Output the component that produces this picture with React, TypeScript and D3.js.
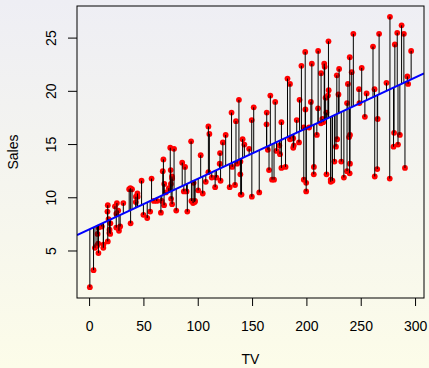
import React, { useEffect, useRef } from "react";
import * as d3 from "d3";

// Advertising data: TV budget and Sales
const tv = [
  230.1, 44.5, 17.2, 151.5, 180.8, 8.7, 57.5, 120.2, 8.6, 199.8, 66.1, 214.7, 23.8, 97.5, 204.1, 195.4, 67.8, 281.4, 69.2, 147.3,
  218.4, 237.4, 13.2, 228.3, 62.3, 262.9, 142.9, 240.1, 248.8, 70.6, 292.9, 112.9, 97.2, 265.6, 95.7, 290.7, 266.9, 74.7, 43.1, 228,
  202.5, 177, 293.6, 206.9, 25.1, 175.1, 89.7, 239.9, 227.2, 66.9, 199.8, 100.4, 216.4, 182.6, 262.7, 198.9, 7.3, 136.2, 210.8, 210.7,
  53.5, 261.3, 239.3, 102.7, 131.1, 69, 31.5, 139.3, 237.4, 216.8, 199.1, 109.8, 26.8, 129.4, 213.4, 16.9, 27.5, 120.5, 5.4, 116,
  76.4, 239.8, 75.3, 68.4, 213.5, 193.2, 76.3, 110.7, 88.3, 109.8, 134.3, 28.6, 217.7, 250.9, 107.4, 163.3, 197.6, 184.9, 289.7, 135.2,
  222.4, 296.4, 280.2, 187.9, 238.2, 137.9, 25, 90.4, 13.1, 255.4, 225.8, 241.7, 175.7, 209.6, 78.2, 75.1, 139.2, 76.4, 125.7, 19.4,
  141.3, 18.8, 224, 123.1, 229.5, 87.2, 7.8, 80.2, 220.3, 59.6, 0.7, 265.2, 8.4, 219.8, 36.9, 48.3, 25.6, 273.7, 43, 184.9,
  73.4, 193.7, 220.5, 104.6, 96.2, 140.3, 240.1, 243.2, 38, 44.7, 280.7, 121, 197.6, 171.3, 187.8, 4.1, 93.9, 149.8, 11.7, 131.7,
  172.5, 85.7, 188.4, 163.5, 117.2, 234.5, 17.9, 206.8, 215.4, 284.3, 50, 164.5, 19.6, 168.4, 222.4, 276.9, 248.4, 170.2, 276.7, 165.6,
  156.6, 218.5, 56.2, 287.6, 253.8, 205, 139.5, 191.1, 286, 18.7, 39.5, 75.5, 17.2, 166.8, 149.7, 38.2, 94.2, 177, 283.6, 232.1,
];
const sales = [
  22.1, 10.4, 9.3, 18.5, 12.9, 7.2, 11.8, 13.2, 4.8, 10.6, 8.6, 17.4, 9.2, 9.7, 19, 22.4, 12.5, 24.4, 11.3, 14.6,
  18, 12.5, 5.6, 15.5, 9.7, 12, 15, 15.9, 18.9, 10.5, 21.4, 11.9, 9.6, 17.4, 9.5, 12.8, 25.4, 14.7, 10.1, 21.5,
  16.6, 17.1, 20.7, 12.9, 8.5, 14.9, 10.6, 23.2, 14.8, 9.7, 11.4, 10.7, 22.6, 21.2, 20.2, 23.7, 5.5, 13.2, 23.8, 18.4,
  8.1, 24.2, 15.7, 14, 18, 9.3, 9.5, 13.4, 18.9, 22.3, 18.3, 12.4, 8.8, 11, 17, 8.7, 6.9, 14.2, 5.3, 11,
  11.8, 12.3, 11.3, 13.6, 21.7, 15.2, 12, 16, 12.9, 16.7, 11.2, 7.3, 19.4, 22.2, 11.5, 16.9, 11.7, 15.5, 25.4, 17.2,
  11.7, 23.8, 14.8, 14.7, 20.7, 19.2, 7.2, 8.7, 5.3, 19.8, 13.4, 21.8, 14.1, 15.9, 14.6, 12.6, 12.2, 9.4, 15.9, 6.6,
  15.5, 7, 11.6, 15.2, 19.7, 10.6, 6.6, 8.8, 24.7, 9.7, 1.6, 12.7, 5.7, 19.6, 10.8, 11.6, 9.5, 20.8, 9.6, 20.7,
  10.9, 19.2, 20.1, 10.4, 11.4, 10.3, 13.2, 25.4, 10.9, 10.1, 16.1, 11.6, 16.6, 19, 15.6, 3.2, 15.3, 10.1, 7.3, 12.9,
  14.4, 13.3, 14.9, 18, 11.9, 11.9, 8, 12.2, 17.1, 15, 8.4, 14.5, 7.6, 11.7, 11.5, 27, 20.2, 11.7, 11.8, 12.6,
  10.5, 12.2, 8.7, 26.2, 17.6, 22.6, 10.3, 17.3, 15.9, 6.7, 10.8, 9.9, 5.9, 19.6, 17.3, 7.6, 9.7, 12.8, 25.5, 13.4,
];
const xTicks = [0, 50, 100, 150, 200, 250, 300];
const yTicks = [5, 10, 15, 20, 25];

export default function App() {
  const svgRef = useRef(null);

  useEffect(() => {
    const W = 429;
    const H = 368;
    const margin = { top: 6, right: 5, bottom: 70, left: 77 };
    const font = "'Liberation Sans', Arial, Helvetica, sans-serif";
    const fs = 14;

    const svg = d3.select(svgRef.current).attr("width", W).attr("height", H);

    // background gradient like the R device
    const defs = svg.append("defs");
    const grad = defs.append("linearGradient")
      .attr("id", "bg").attr("x1", 0).attr("y1", 0).attr("x2", 0).attr("y2", 1);
    grad.append("stop").attr("offset", "0%").attr("stop-color", "#eeeef4");
    grad.append("stop").attr("offset", "100%").attr("stop-color", "#fcfce9");
    svg.append("rect").attr("width", W).attr("height", H).attr("fill", "url(#bg)");

    // R-style ranges: data extent padded 4%
    const xe = d3.extent(tv);
    const ye = d3.extent(sales);
    const xp = (xe[1] - xe[0]) * 0.04;
    const yp = (ye[1] - ye[0]) * 0.04;
    const x = d3.scaleLinear().domain([xe[0] - xp, xe[1] + xp]).range([margin.left, W - margin.right]);
    const y = d3.scaleLinear().domain([ye[0] - yp, ye[1] + yp]).range([H - margin.bottom, margin.top]);

    // least squares fit
    const mx = d3.mean(tv);
    const my = d3.mean(sales);
    let sxy = 0;
    let sxx = 0;
    tv.forEach((v, i) => {
      sxy += (v - mx) * (sales[i] - my);
      sxx += (v - mx) * (v - mx);
    });
    const b = sxy / sxx;
    const a = my - b * mx;

    defs.append("clipPath").attr("id", "plotclip")
      .append("rect")
      .attr("x", margin.left).attr("y", margin.top)
      .attr("width", W - margin.left - margin.right)
      .attr("height", H - margin.top - margin.bottom);

    const data = tv.map((v, i) => ({ tv: v, sales: sales[i] }));

    // points
    svg.append("g").selectAll("circle").data(data).join("circle")
      .attr("cx", d => x(d.tv))
      .attr("cy", d => y(d.sales))
      .attr("r", 2.9)
      .attr("fill", "#ff0000");

    // residual segments
    svg.append("g").selectAll("line").data(data).join("line")
      .attr("x1", d => x(d.tv)).attr("x2", d => x(d.tv))
      .attr("y1", d => y(d.sales)).attr("y2", d => y(a + b * d.tv))
      .attr("stroke", "#000").attr("stroke-width", 1);

    // regression line across the plot region
    const dom = x.domain();
    svg.append("line")
      .attr("clip-path", "url(#plotclip)")
      .attr("x1", x(dom[0])).attr("x2", x(dom[1]))
      .attr("y1", y(a + b * dom[0])).attr("y2", y(a + b * dom[1]))
      .attr("stroke", "#0000ff").attr("stroke-width", 2);

    // box
    svg.append("rect")
      .attr("x", margin.left).attr("y", margin.top)
      .attr("width", W - margin.left - margin.right)
      .attr("height", H - margin.top - margin.bottom)
      .attr("fill", "none").attr("stroke", "#000").attr("stroke-width", 1);

    // x axis
    const gx = svg.append("g")
      .attr("transform", `translate(0,${H - margin.bottom})`)
      .call(d3.axisBottom(x).tickValues(xTicks).tickSize(8).tickPadding(15).tickSizeOuter(0));
    gx.select(".domain").remove();
    gx.selectAll("text").attr("font-family", font).attr("font-size", fs).attr("fill", "#000");

    // y axis, labels rotated like R's default las=0
    const gy = svg.append("g")
      .attr("transform", `translate(${margin.left},0)`)
      .call(d3.axisLeft(y).tickValues(yTicks).tickSize(9).tickPadding(0).tickSizeOuter(0));
    gy.select(".domain").remove();
    gy.selectAll(".tick").attr("transform", "translate(0,0)");
    gy.selectAll(".tick line").attr("y1", d => y(d)).attr("y2", d => y(d));
    gy.selectAll("text")
      .attr("font-family", font).attr("font-size", fs).attr("fill", "#000")
      .attr("text-anchor", "middle")
      .attr("x", 0).attr("dy", null)
      .attr("transform", d => `translate(-21.5,${y(d)}) rotate(-90)`)
      .attr("y", 0);

    // axis titles
    svg.append("text")
      .attr("x", (margin.left + W - margin.right) / 2)
      .attr("y", 364)
      .attr("text-anchor", "middle")
      .attr("font-family", font).attr("font-size", fs)
      .text("TV");
    svg.append("text")
      .attr("transform", `translate(18,${(margin.top + H - margin.bottom) / 2}) rotate(-90)`)
      .attr("text-anchor", "middle")
      .attr("font-family", font).attr("font-size", fs)
      .text("Sales");

    return () => {
      d3.select(svgRef.current).selectAll("*").remove();
    };
  }, []);

  return (
    <div>
      <svg ref={svgRef} style={{ position: "absolute", left: 0, top: 0 }}></svg>
    </div>
  );
}
